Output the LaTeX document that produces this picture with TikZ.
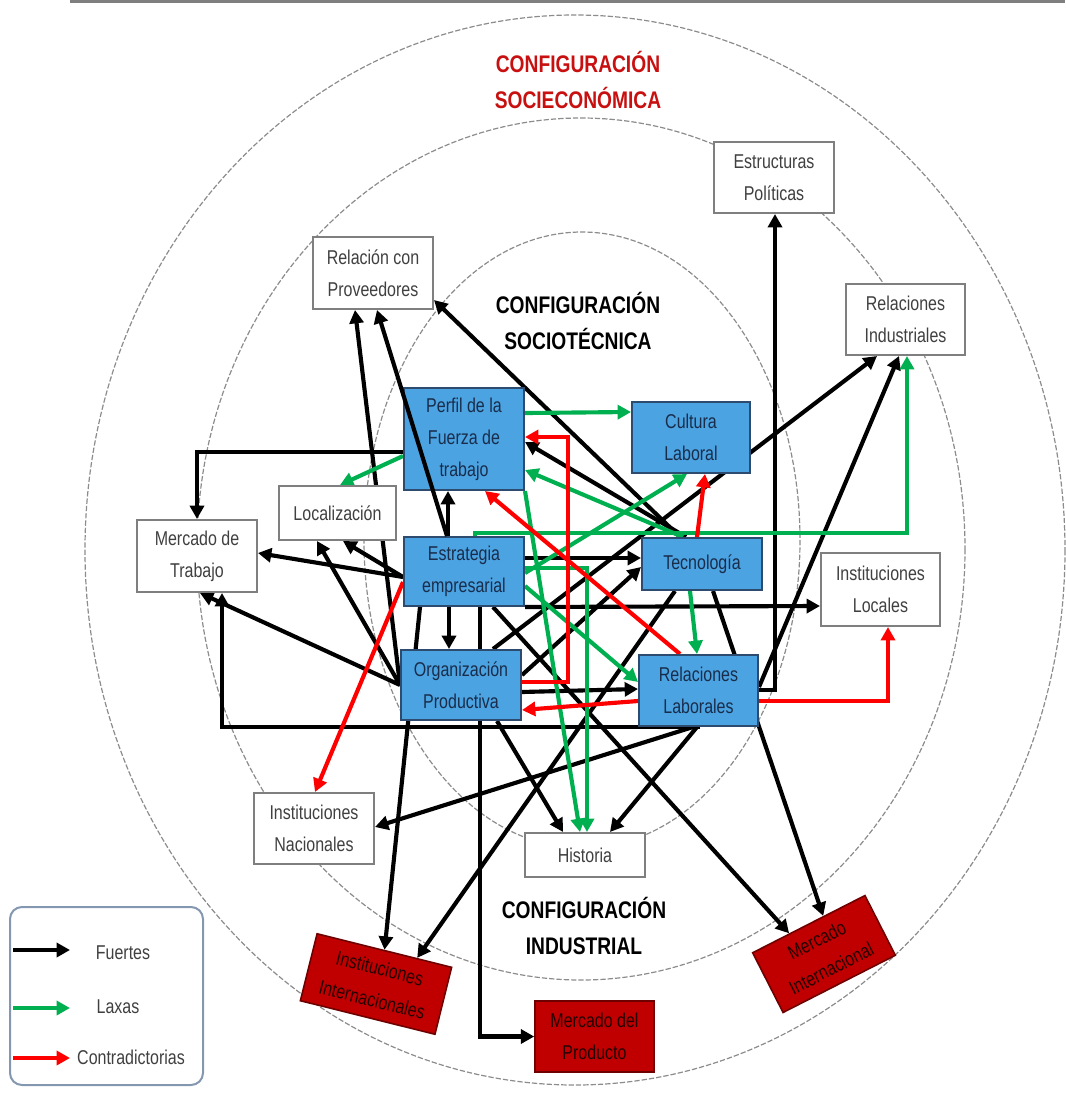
\documentclass[tikz,border=0pt]{standalone}
\usepackage{fontspec}
\setmainfont[FakeStretch=0.8]{Liberation Sans}
\usetikzlibrary{arrows.meta,calc}
\pgfdeclarelayer{bg}
\pgfdeclarelayer{fg}
\pgfsetlayers{bg,main,fg}
\definecolor{bluebox}{RGB}{75,163,226}
\definecolor{blueedge}{RGB}{45,75,110}
\definecolor{bluetext}{RGB}{25,45,75}
\definecolor{redbox}{RGB}{192,0,0}
\definecolor{rededge}{RGB}{110,0,0}
\definecolor{grayedge}{RGB}{127,127,127}
\definecolor{graytext}{RGB}{64,64,64}
\definecolor{laxgreen}{RGB}{0,176,80}
\definecolor{ctred}{RGB}{255,0,0}
\definecolor{titlered}{RGB}{200,16,16}
\definecolor{legedge}{RGB}{132,151,176}
\begin{document}
\begin{tikzpicture}[x=0.75pt,y=-0.75pt,
  boxtext/.style={font=\fontsize{15}{24}\selectfont, align=center, inner sep=0pt},
  wbox/.style={boxtext, draw=grayedge, line width=1.5pt, fill=white, text=graytext},
  bbox/.style={boxtext, draw=blueedge, line width=1.5pt, fill=bluebox, text=bluetext},
  rbox/.style={boxtext, draw=rededge, line width=1.2pt, fill=redbox, text=black!85!red},
  ttl/.style={font=\fontsize{18}{27}\selectfont\bfseries, align=center, inner sep=0pt},
  headtip/.style={-{Triangle[length=10pt,width=10.5pt]}},
  fz/.style={headtip, line width=3.1pt, black},
  lx/.style={headtip, line width=3.1pt, laxgreen},
  ct/.style={headtip, line width=3.1pt, ctred},
  dashring/.style={draw=gray!90, line width=0.9pt, dash pattern=on 4pt off 1.5pt},
]
\useasboundingbox (0,0) rectangle (1065,1103);

% boxes
\node[wbox, minimum width=90pt, minimum height=54pt] (prov) at (373,273) {Relación con\\Proveedores};
\node[wbox, minimum width=90pt, minimum height=53.25pt] (estp) at (774,177.5) {Estructuras\\Políticas};
\node[wbox, minimum width=89.25pt, minimum height=53.25pt] (relind) at (905.5,319.5) {Relaciones\\Industriales};
\node[wbox, minimum width=87.75pt, minimum height=40.5pt] (loc) at (337.5,513) {Localización};
\node[wbox, minimum width=90pt, minimum height=54pt] (mtrab) at (197,556) {Mercado de\\Trabajo};
\node[wbox, minimum width=89.25pt, minimum height=54.75pt] (instloc) at (880.5,589.5) {Instituciones\\Locales};
\node[wbox, minimum width=90pt, minimum height=53.25pt] (instnac) at (314,828.5) {Instituciones\\Nacionales};
\node[wbox, minimum width=90pt, minimum height=33pt] (hist) at (585,855) {Historia};
\node[bbox, minimum width=90pt, minimum height=76.5pt] (perfil) at (464,439) {Perfil de la\\Fuerza de\\trabajo};
\node[bbox, minimum width=88.5pt, minimum height=53.25pt] (cult) at (691,437.5) {Cultura\\Laboral};
\node[bbox, minimum width=90pt, minimum height=51.75pt] (estr) at (464,571.5) {Estrategia\\empresarial};
\node[bbox, minimum width=90pt, minimum height=39pt] (tec) at (702,564) {Tecnología};
\node[bbox, minimum width=90pt, minimum height=52.5pt] (org) at (461,685) {Organización\\Productiva};
\node[bbox, minimum width=89.25pt, minimum height=53.25pt] (rlab) at (698.5,690.5) {Relaciones\\Laborales};
\node[rbox, minimum width=104pt, minimum height=51.75pt, rotate=-14] (intl) at (376,984) {Instituciones\\Internacionales};
\node[rbox, minimum width=89.25pt, minimum height=53.25pt] (mprod) at (594.5,1036.5) {Mercado del\\Producto};
\node[rbox, minimum width=94.5pt, minimum height=50.25pt, rotate=27] (mint) at (824,954) {Mercado\\Internacional};

% titles
\node[ttl, text=titlered] (t1) at (578,80) {CONFIGURACIÓN\\SOCIECONÓMICA};
\node[ttl] (t2) at (578,321) {CONFIGURACIÓN\\SOCIOTÉCNICA};
\node[ttl] (t3) at (584,926) {CONFIGURACIÓN\\INDUSTRIAL};

% legend
\node[draw=legedge, line width=1.5pt, rounded corners=9pt, minimum width=144.75pt, minimum height=133.5pt] (leg) at (106.5,996) {};
\coordinate (l1a) at (13,950); \coordinate (l1b) at (70,950);
\coordinate (l2a) at (13,1008); \coordinate (l2b) at (70,1008);
\coordinate (l3a) at (13,1058); \coordinate (l3b) at (70,1058);
\node[boxtext, text=graytext] (lt1) at (123,953) {Fuertes};
\node[boxtext, text=graytext] (lt2) at (118,1007) {Laxas};
\node[boxtext, text=graytext] (lt3) at (131,1057) {Contradictorias};
\draw[fz] (l1a) -- (l1b);
\draw[lx] (l2a) -- (l2b);
\draw[ct] (l3a) -- (l3b);

\begin{pgfonlayer}{bg}
\draw[grayedge, line width=2.3pt] (70,1.5) -- (1065,1.5);
\draw[dashring] (575,550) ellipse [x radius=490, y radius=535];
\draw[dashring] (581,549) ellipse [x radius=384, y radius=431];
\draw[dashring] (582,540) ellipse [x radius=218, y radius=308];

% strong (black)
\draw[fz] (perfil.west |- 0,452) -| (mtrab.north);
\draw[fz] (org.west) -- (prov.south -| 355,0);
\draw[fz] (tec.north -| 680,0) -- (prov.east |- 0,300);
\draw[fz] (tec.north -| 686,0) -- (perfil.east |- 0,442);
\draw[fz] (org.north -| 493,0) -- (relind.south -| 877,0);
\draw[fz] (rlab.east |- 0,687) -- (relind.south -| 899,0);
\draw[fz] (rlab.east |- 0,690) -| (estp.south -| 775,0);
\draw[fz] (estr.south east) -- (instloc.west |- 0,606);
\draw[fz] (rlab.south -| 700,0) -| (mtrab.south -| 222,0);
\draw[fz] (estr.south -| 449,0) -- (org.north -| 449,0);
\draw[fz] (estr.north -| 448,0) -- (perfil.south -| 448,0);
\draw[fz] (estr.east |- 0,558) -- (tec.west |- 0,558);
\draw[fz] (org.east |- 0,675) -- (tec.west |- 0,567);
\draw[fz] (org.east |- 0,692) -- (rlab.west |- 0,689);
\draw[fz] (tec.south -| 675,0) -- ($(intl.north west)!0.74!(intl.north east)$);
\draw[fz] (estr.south -| 420,0) -- ($(intl.north west)!0.5!(intl.north east)$);
\draw[fz] (estr.south -| 480,0) |- (mprod.west);
\draw[fz] (org.south -| 497,0) -- (hist.north -| 563,0);
\draw[fz] (rlab.south -| 697,0) -- (hist.north -| 610,0);
\draw[fz] (rlab.south -| 693,0) -- (instnac.east |- 0,827);
\draw[fz] (estr.south -| 493,0) -- ($(mint.north west)!0.33!(mint.north east)$);
\draw[fz] (tec.south -| 713,0) -- ($(mint.north west)!0.63!(mint.north east)$);
\draw[fz] (estr.west |- 0,577) -- (mtrab.east |- 0,553);
\draw[fz] (org.west) -- (mtrab.south -| 200,0);
\draw[fz] (org.west) -- (loc.south -| 317,0);
\draw[fz] (estr.west |- 0,577) -- (loc.south -| 343,0);

% loose (green)
\draw[lx] (perfil.east |- 0,413) -- (cult.west |- 0,412);
\draw[lx] (perfil.west |- 0,456) -- (loc.north -| 340,0);
\draw[lx] (tec.north -| 683,0) -- (perfil.east |- 0,470);
\draw[lx] (estr.east |- 0,573) -- (cult.south -| 687,0);
\draw[lx] (estr.east |- 0,568) -| (hist.north -| 587,0);
\draw[lx] (perfil.south east) -- (hist.north -| 580,0);
\draw[lx] (estr.east |- 0,586) -- (rlab.west |- 0,682);
\draw[lx] (tec.south -| 690,0) -- (rlab.north -| 697,0);
\draw[lx] (estr.north -| 475,0) |- (700,533) -| (relind.south -| 907,0);

% contradictory (red)
\draw[ct] (org.east |- 0,682) -| (568,437) -- (perfil.east |- 0,437);
\draw[ct] (rlab.north -| 680,0) -- (perfil.south -| 485,0);
\draw[ct] (tec.north -| 697,0) -- (cult.south -| 705,0);
\draw[ct] (estr.west |- 0,582) -- (instnac.north -| 315,0);
\draw[ct] (rlab.west |- 0,701) -- (org.east |- 0,710);
\draw[ct] (rlab.east |- 0,701) -| (instloc.south -| 888,0);
\end{pgfonlayer}

\begin{pgfonlayer}{fg}
\draw[fz] (estr.north -| 447,0) -- (prov.south -| 377,0);
\end{pgfonlayer}
\end{tikzpicture}
\end{document}
